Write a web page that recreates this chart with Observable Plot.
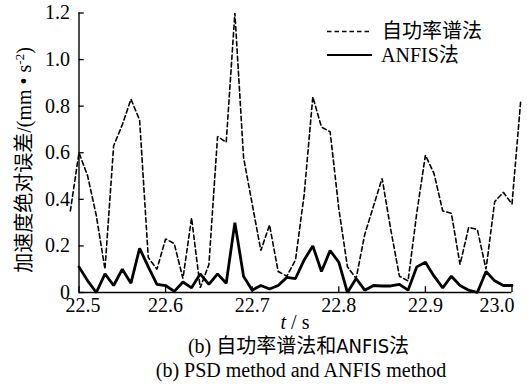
<!DOCTYPE html>
<html lang="en"><head><meta charset="utf-8">
<script src="https://cdn.jsdelivr.net/npm/d3@7"></script>
<script src="https://cdn.jsdelivr.net/npm/@observablehq/plot@0.6"></script>
</head><body style="margin:0;background:#fff"><div id="wrap" style="position:relative;width:527px;height:385px"></div>
<script>
// ---- data ----
const seriesNames = ["自功率谱法", "ANFIS法"];
const tPsd = [22.49,22.50,22.51,22.52,22.53,22.54,22.55,22.56,22.57,22.58,22.59,22.60,22.61,22.62,22.63,22.64,22.65,22.66,22.67,22.68,22.69,22.70,22.71,22.72,22.73,22.74,22.75,22.76,22.77,22.78,22.79,22.80,22.81,22.82,22.83,22.84,22.85,22.86,22.87,22.88,22.89,22.90,22.91,22.92,22.93,22.94,22.95,22.96,22.97,22.98,22.99,23.00,23.01];
const psd = [0.35,0.60,0.50,0.33,0.10,0.63,0.72,0.83,0.74,0.15,0.10,0.23,0.21,0.06,0.32,0.02,0.12,0.67,0.645,1.20,0.58,0.38,0.18,0.29,0.09,0.07,0.14,0.42,0.84,0.71,0.69,0.36,0.11,0.06,0.25,0.37,0.49,0.27,0.07,0.05,0.34,0.59,0.51,0.35,0.34,0.12,0.28,0.27,0.10,0.39,0.43,0.38,0.82];
const tAnfis = [22.50,22.51,22.52,22.53,22.54,22.55,22.56,22.57,22.58,22.59,22.60,22.61,22.62,22.63,22.64,22.65,22.66,22.67,22.68,22.69,22.70,22.71,22.72,22.73,22.74,22.75,22.76,22.77,22.78,22.79,22.80,22.81,22.82,22.83,22.84,22.85,22.86,22.87,22.88,22.89,22.90,22.91,22.92,22.93,22.94,22.95,22.96,22.97,22.98,22.99,23.00];
const anfis = [0.11,0.05,0.00,0.08,0.03,0.10,0.04,0.19,0.11,0.035,0.03,0.005,0.045,0.02,0.08,0.035,0.08,0.04,0.30,0.07,0.01,0.03,0.015,0.03,0.065,0.06,0.14,0.20,0.09,0.18,0.13,0.00,0.06,0.01,0.03,0.028,0.028,0.035,0.01,0.11,0.13,0.07,0.02,0.07,0.03,0.01,0.00,0.09,0.05,0.03,0.03];
const xTicks = [22.5,22.6,22.7,22.8,22.9,23.0];
const yTicks = [0,0.2,0.4,0.6,0.8,1.0,1.2];
const xTickLabels = ["22.5","22.6","22.7","22.8","22.9","23.0"];
const yTickLabels = ["0","0.2","0.4","0.6","0.8","1.0","1.2"];
const yTitleCjk = "加速度绝对误差";
const yTitleUnit = "/(mm • s";
const yTitleSup = "-2";
const caption1 = ["(b) ", "自功率谱法和", "ANFIS", "法"];
const caption2 = "(b)  PSD method and ANFIS method";

const psdData = tPsd.map((t, i) => ({t, v: psd[i]}));
const anfisData = tAnfis.map((t, i) => ({t, v: anfis[i]}));
const xf = d => xTickLabels[xTicks.indexOf(d)];
const yf = d => yTickLabels[yTicks.indexOf(d)];
const SERIF = '"Times New Roman", "Liberation Serif", Times, serif';
const CJK = '"Noto Sans CJK SC", sans-serif';

const chart = Plot.plot({
  width: 527, height: 332,
  marginLeft: 78.5, marginRight: 15.5, marginTop: 12.5, marginBottom: 40,
  x: {domain: [22.5, 23.0]},
  y: {domain: [0, 1.2]},
  marks: [
    Plot.axisY({ticks: yTicks, tickSize: 0, tickPadding: 9, tickFormat: yf, label: null, fontSize: 20, fontFamily: SERIF, fontVariant: "normal", fill: "#000"}),
    Plot.axisX({ticks: xTicks.slice(1, 5), tickSize: 0, tickPadding: 5, tickFormat: xf, label: null, fontSize: 20, fontFamily: SERIF, fontVariant: "normal", fill: "#000"}),
    Plot.axisX({ticks: [xTicks[0]], tickSize: 0, tickPadding: 5, tickFormat: xf, label: null, fontSize: 20, fontFamily: SERIF, fontVariant: "normal", fill: "#000", dx: 4}),
    Plot.axisX({ticks: [xTicks[5]], tickSize: 0, tickPadding: 5, tickFormat: xf, label: null, fontSize: 20, fontFamily: SERIF, fontVariant: "normal", fill: "#000", dx: -15}),
    Plot.ruleX(xTicks, {x: d => d, y1: 0, y2: 0.025, stroke: "#000", strokeWidth: 1.3}),
    Plot.ruleY(yTicks, {y: d => d, x1: 22.5, x2: 22.506, stroke: "#000", strokeWidth: 1.3}),
    Plot.ruleX([22.5], {stroke: "#000", strokeWidth: 1.4}),
    Plot.ruleY([0], {stroke: "#000", strokeWidth: 1.4}),
    Plot.line(psdData, {x: "t", y: "v", stroke: "#000", strokeWidth: 1.6, strokeDasharray: "4.5,3", strokeLinejoin: "miter"}),
    Plot.line(anfisData, {x: "t", y: "v", stroke: "#000", strokeWidth: 2.8, strokeLinejoin: "miter"})
  ]
});

const svg = d3.select(chart);
// legend
svg.append("line").attr("x1", 327).attr("x2", 372).attr("y1", 31.5).attr("y2", 31.5)
  .attr("stroke", "#000").attr("stroke-width", 1.6).attr("stroke-dasharray", "4.5,3");
svg.append("line").attr("x1", 327).attr("x2", 372).attr("y1", 55).attr("y2", 55)
  .attr("stroke", "#000").attr("stroke-width", 2);
svg.append("text").attr("x", 382).attr("y", 38).attr("font-size", 20).attr("text-anchor", "start")
  .attr("fill", "#000").attr("font-family", CJK).text(seriesNames[0]);
const l2 = svg.append("text").attr("x", 381).attr("y", 62).attr("font-size", 20).attr("text-anchor", "start").attr("fill", "#000");
l2.append("tspan").attr("font-family", SERIF).text(seriesNames[1].slice(0, 5));
l2.append("tspan").attr("font-family", CJK).text(seriesNames[1].slice(5));
// y title
const yl = svg.append("text").attr("transform", "translate(31,160) rotate(-90)")
  .attr("text-anchor", "middle").attr("font-size", 20).attr("fill", "#000").attr("font-family", SERIF);
yl.append("tspan").attr("font-family", CJK).text(yTitleCjk);
yl.append("tspan").attr("font-family", SERIF).text(yTitleUnit);
yl.append("tspan").attr("font-family", SERIF).attr("dy", -7).attr("font-size", 13).text(yTitleSup);
yl.append("tspan").attr("font-family", SERIF).attr("dy", 7).text(")");
// x title
const xl = svg.append("text").attr("x", 295).attr("y", 329).attr("text-anchor", "middle")
  .attr("font-size", 20).attr("fill", "#000").attr("font-family", SERIF);
xl.append("tspan").attr("font-style", "italic").text("t");
xl.append("tspan").text(" / s");

const wrap = document.getElementById("wrap");
wrap.appendChild(chart);

// captions below the chart
const CAP = "position:absolute;text-align:center;font-size:20px;line-height:22px;font-family:'Times New Roman','Liberation Serif',serif;color:#000;white-space:nowrap;";
const c1 = document.createElement("div");
c1.setAttribute("style", CAP + "left:70px;width:457px;top:334px;");
c1.innerHTML = caption1[0] + "<span style=\"font-family:'Noto Sans CJK SC',sans-serif\">" + caption1[1] + "</span><span style=\"font-family:'Liberation Sans Narrow','DejaVu Sans Condensed',sans-serif\">" + caption1[2] + "</span><span style=\"font-family:'Noto Sans CJK SC',sans-serif\">" + caption1[3] + "</span>";
wrap.appendChild(c1);
const c2 = document.createElement("div");
c2.setAttribute("style", CAP + "left:75px;width:452px;top:359px;");
c2.textContent = caption2;
wrap.appendChild(c2);
</script></body></html>
